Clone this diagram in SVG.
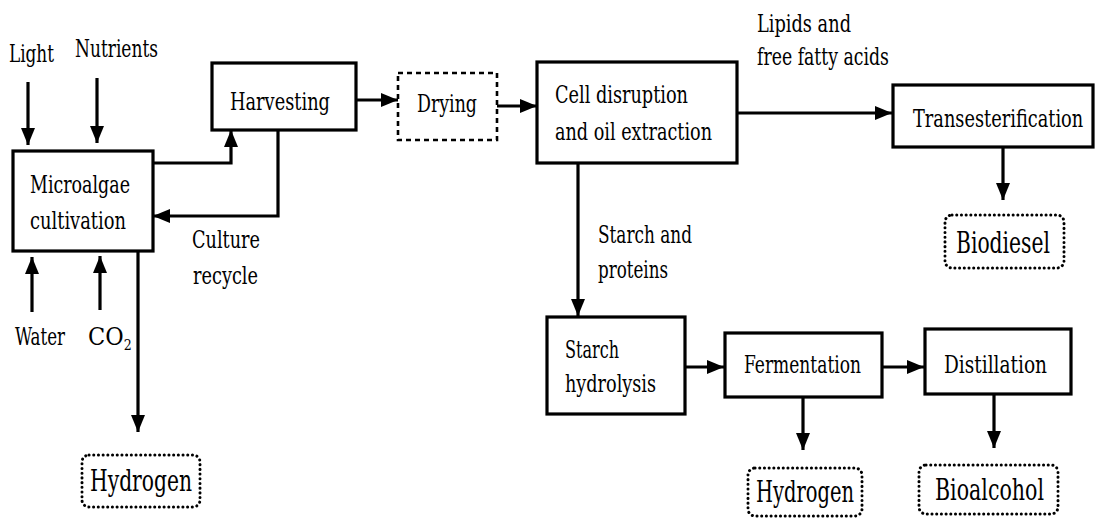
<svg xmlns="http://www.w3.org/2000/svg" width="1099" height="518" viewBox="0 0 1099 518">
<style>
text{font-family:"DejaVu Serif Condensed","DejaVu Serif","Liberation Serif",serif;font-stretch:condensed;font-size:25px;fill:#000}
.box{fill:#fff;stroke:#000;stroke-width:3.2}
.dash{fill:#fff;stroke:#000;stroke-width:2.6;stroke-dasharray:5 4}
.dot{fill:#fff;stroke:#000;stroke-width:3;stroke-dasharray:0.1 4.6;stroke-linecap:round}
.prod{font-size:30px}
.conn path{fill:none;stroke:#000;stroke-width:3.2;marker-end:url(#ah)}
</style>
<defs>
<marker id="ah" markerUnits="userSpaceOnUse" markerWidth="17" markerHeight="14" refX="17" refY="7" orient="auto">
<path d="M0,0 L17,7 L0,14 z" fill="#000"/>
</marker>
</defs>
<g id="inputs">
<text x="9" y="62" textLength="45" lengthAdjust="spacingAndGlyphs">Light</text>
<text x="75" y="57" textLength="83" lengthAdjust="spacingAndGlyphs">Nutrients</text>
<text x="15" y="345" textLength="50" lengthAdjust="spacingAndGlyphs">Water</text>
<text x="88" y="345">CO<tspan font-size="14" dy="5">2</tspan></text>
</g>
<g id="microalgae">
<rect class="box" x="13" y="151" width="140" height="100"/>
<text x="30" y="193" textLength="100" lengthAdjust="spacingAndGlyphs">Microalgae</text>
<text x="30" y="229" textLength="96" lengthAdjust="spacingAndGlyphs">cultivation</text>
</g>
<g id="harvesting">
<rect class="box" x="212" y="63" width="144" height="67"/>
<text x="230" y="110" textLength="100" lengthAdjust="spacingAndGlyphs">Harvesting</text>
</g>
<g id="recycle-label">
<text x="192" y="248" textLength="68" lengthAdjust="spacingAndGlyphs">Culture</text>
<text x="193" y="284" textLength="65" lengthAdjust="spacingAndGlyphs">recycle</text>
</g>
<g id="drying">
<rect class="dash" x="398" y="73" width="99" height="67"/>
<text x="417" y="112" textLength="60" lengthAdjust="spacingAndGlyphs">Drying</text>
</g>
<g id="cell">
<rect class="box" x="537" y="62" width="200" height="101"/>
<text x="555" y="103" font-size="23" textLength="133" lengthAdjust="spacingAndGlyphs">Cell disruption</text>
<text x="555" y="140" font-size="23" textLength="157" lengthAdjust="spacingAndGlyphs">and oil extraction</text>
</g>
<g id="lipids-label">
<text x="757" y="32" font-size="23" textLength="94" lengthAdjust="spacingAndGlyphs">Lipids and</text>
<text x="757" y="65" font-size="23" textLength="132" lengthAdjust="spacingAndGlyphs">free fatty acids</text>
</g>
<g id="transesterification">
<rect class="box" x="893" y="85" width="200" height="62"/>
<text transform="translate(913,127) scale(0.79,1)" x="0" y="0">Transesterification</text>
</g>
<g id="biodiesel">
<rect class="dot" x="945" y="215" width="119" height="53" rx="7"/>
<text class="prod" x="956" y="253" textLength="94" lengthAdjust="spacingAndGlyphs">Biodiesel</text>
</g>
<g id="starch-label">
<text x="598" y="243" font-size="24" textLength="94" lengthAdjust="spacingAndGlyphs">Starch and</text>
<text x="598" y="278" font-size="24" textLength="70" lengthAdjust="spacingAndGlyphs">proteins</text>
</g>
<g id="starch-hydrolysis">
<rect class="box" x="547" y="317" width="138" height="97"/>
<text x="565" y="358" textLength="54" lengthAdjust="spacingAndGlyphs">Starch</text>
<text x="565" y="392" textLength="91" lengthAdjust="spacingAndGlyphs">hydrolysis</text>
</g>
<g id="fermentation">
<rect class="box" x="725" y="333" width="157" height="64"/>
<text x="744" y="373" textLength="117" lengthAdjust="spacingAndGlyphs">Fermentation</text>
</g>
<g id="distillation">
<rect class="box" x="925" y="329" width="146" height="65"/>
<text x="944" y="373" textLength="103" lengthAdjust="spacingAndGlyphs">Distillation</text>
</g>
<g id="hydrogen-1">
<rect class="dot" x="82" y="455" width="118" height="52" rx="7"/>
<text class="prod" x="90" y="491" textLength="102" lengthAdjust="spacingAndGlyphs">Hydrogen</text>
</g>
<g id="hydrogen-2">
<rect class="dot" x="748" y="468" width="114" height="48" rx="7"/>
<text class="prod" x="756" y="502" textLength="98" lengthAdjust="spacingAndGlyphs">Hydrogen</text>
</g>
<g id="bioalcohol">
<rect class="dot" x="919" y="465" width="139" height="49" rx="7"/>
<text class="prod" x="935" y="500" textLength="109" lengthAdjust="spacingAndGlyphs">Bioalcohol</text>
</g>
<g id="connectors" class="conn">
<path d="M28,82 V145"/>
<path d="M97,78 V143"/>
<path d="M32,312 V257"/>
<path d="M100,310 V256"/>
<path d="M153,163 H231 V130"/>
<path d="M278,130 V216 H153"/>
<path d="M138,251 V432"/>
<path d="M356,100 H398"/>
<path d="M497,106 H537"/>
<path d="M737,113 H892"/>
<path d="M578,163 V316"/>
<path d="M1003,147 V200"/>
<path d="M685,367 H724"/>
<path d="M882,367 H924"/>
<path d="M803,397 V450"/>
<path d="M994,394 V448"/>
</g>
</svg>
